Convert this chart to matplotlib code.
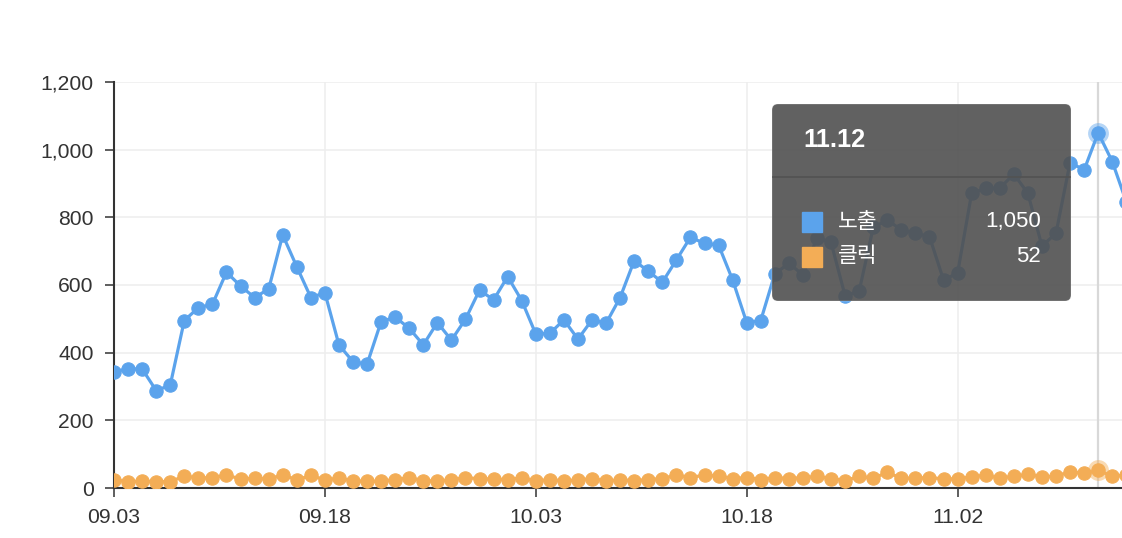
import matplotlib
matplotlib.use('Agg')
import matplotlib.pyplot as plt
from matplotlib.patches import FancyBboxPatch, Rectangle
from matplotlib.lines import Line2D
from matplotlib.transforms import IdentityTransform
from matplotlib.ticker import FuncFormatter
import numpy as np
import pandas as pd

# daily categories 09.03 .. 11.14
dates = pd.date_range('2023-09-03', '2023-11-14').strftime('%m.%d').tolist()

# 노출 (impressions)
impressions = [344, 352, 352, 288, 304, 495, 533, 543, 638, 597,
               563, 588, 748, 654, 563, 577, 423, 373, 366, 492,
               505, 472, 423, 489, 437, 499, 585, 556, 625, 554,
               455, 457, 497, 440, 497, 487, 563, 672, 641, 608,
               674, 741, 723, 718, 615, 489, 495, 633, 664, 630,
               740, 726, 568, 582, 770, 792, 763, 753, 743, 615,
               635, 871, 886, 886, 928, 871, 715, 753, 962, 940,
               1050, 965, 846]
# 클릭 (clicks)
clicks = [24, 19, 20, 19, 19, 35, 30, 30, 39, 26,
          29, 26, 39, 24, 37, 24, 29, 21, 20, 20,
          25, 30, 22, 20, 25, 30, 28, 26, 25, 30,
          21, 25, 21, 24, 28, 21, 24, 22, 25, 28,
          38, 31, 38, 35, 28, 31, 25, 31, 28, 31,
          34, 28, 22, 34, 29, 46, 29, 29, 31, 27,
          27, 33, 38, 29, 35, 40, 33, 35, 48, 43,
          52, 35, 38]

series_names = ['노출', '클릭']
hover_date = '11.12'

BLUE = '#5ba3ec'
ORANGE = '#f3ad56'
AXIS = '#333333'
FONT = ['Liberation Sans', 'Noto Sans CJK KR', 'DejaVu Sans']
plt.rcParams['font.family'] = FONT

W, H = 1122, 538
fig = plt.figure(figsize=(W / 100, H / 100), dpi=100)
ax = fig.add_axes([114 / W, 50 / H, (1126.3 - 114) / W, 406 / H])

x = np.arange(len(dates))
hi = dates.index(hover_date)

ax.plot(x, impressions, color=BLUE, lw=2.3, marker='o', ms=9.6, mew=0.8, zorder=4)
ax.plot(x, clicks, color=ORANGE, lw=2.3, marker='o', ms=9.6, mew=0.8, zorder=4)

# hover highlight
ax.axvline(hi, color='#d8d8d8', lw=1.6, zorder=2)
ax.plot(hi, impressions[hi], 'o', color=BLUE, ms=15, alpha=0.45, mew=0, zorder=3)
ax.plot(hi, clicks[hi], 'o', color=ORANGE, ms=15, alpha=0.45, mew=0, zorder=3)

ax.set_xlim(0, len(dates) - 1)
ax.set_ylim(0, 1200)
ax.set_yticks(range(0, 1201, 200))
ax.yaxis.set_major_formatter(FuncFormatter(lambda v, p: f'{int(v):,}'))
ax.set_xticks(x[::15])
ax.set_xticklabels(dates[::15])

ax.grid(True, color='#eeeeee', lw=1.1, zorder=0)
ax.set_axisbelow(True)
for s in ['top', 'right']:
    ax.spines[s].set_visible(False)
for s in ['left', 'bottom']:
    ax.spines[s].set_color(AXIS)
    ax.spines[s].set_linewidth(1.5)
ax.tick_params(length=6.5, width=1.1, color=AXIS, labelcolor=AXIS,
               labelsize=15.2, pad=8)

# tooltip (pixel coordinates, origin bottom-left)
ident = IdentityTransform()
box = FancyBboxPatch((772, H - 301), 299, 197,
                     boxstyle='round,pad=0,rounding_size=6',
                     facecolor=(80 / 255, 80 / 255, 80 / 255, 0.9),
                     edgecolor=(1, 1, 1, 0.2), lw=0.8,
                     transform=ident, zorder=10)
fig.add_artist(box)
fig.add_artist(Line2D([773, 1070], [H - 176.5, H - 176.5], color='#525252',
                      lw=1.2, transform=ident, zorder=11))
fig.text(803, H - 140, hover_date, transform=ident, color='white',
         fontsize=18.3, fontweight='bold', va='center', ha='left', zorder=12)

rows = [(series_names[0], impressions[hi], BLUE, 222),
        (series_names[1], clicks[hi], ORANGE, 257)]
for name, val, col, yc in rows:
    fig.add_artist(Rectangle((802, H - yc - 10), 20, 20, facecolor=col,
                             edgecolor=col, lw=1, transform=ident, zorder=12))
    fig.text(838, H - yc, name, transform=ident, color='white', fontsize=15.5,
             va='center', ha='left', zorder=12)
    fig.text(1041, H - yc, f'{val:,}', transform=ident, color='white',
             fontsize=16, va='center', ha='right', zorder=12)

fig.savefig('out.png', dpi=100)
